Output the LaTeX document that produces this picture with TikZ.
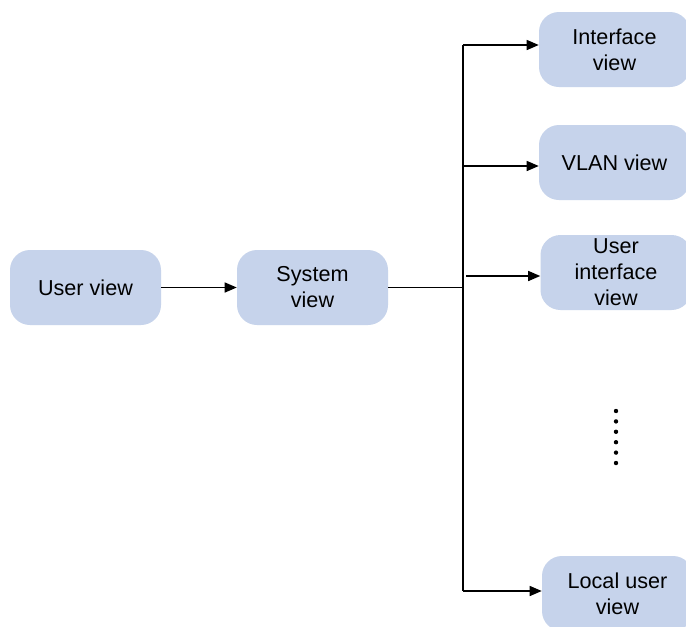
\documentclass[tikz,border=0pt]{standalone}
\usepackage{fontspec}
\setmainfont{Liberation Sans}
\usetikzlibrary{arrows.meta}
\definecolor{boxblue}{HTML}{C6D3EB}
\begin{document}
\begin{tikzpicture}[x=0.75pt,y=-0.75pt,
  viewbox/.style={rectangle, rounded corners=15pt, fill=boxblue,
    minimum width=113.25pt, minimum height=56.25pt, align=center,
    font=\fontsize{16.2}{19.5}\selectfont, inner sep=0pt},
  conn/.style={line width=1pt, draw=black},
  arr/.style={conn, -{Triangle[length=9pt,width=7.5pt]}},
  dot/.style={fill=black}]
\useasboundingbox[fill=white] (0,0) rectangle (686,626);

\node[viewbox] (user)  at (85.5,287.5)  {User view};
\node[viewbox] (sys)   at (312.5,287.5) {System\\view};
\node[viewbox] (intf)  at (614.5,49.5)  {Interface\\view};
\node[viewbox] (vlan)  at (614.5,162.5) {VLAN view};
\node[viewbox] (uif)   at (616,272.5)   {User\\interface\\view};
\node[viewbox] (local) at (617.5,593.5) {Local user\\view};

\coordinate (ttop) at (463,45);
\coordinate (tbot) at (463,591);
\coordinate (b2)   at (463,166);
\coordinate (b3)   at (466,276);

\draw[arr] (user.east) -- (sys.west);
\draw[conn] (sys.east) -- (sys.east -| ttop);
\draw[conn] (ttop) -- (tbot);
\draw[arr] (ttop) -- (ttop -| intf.west);
\draw[arr] (b2) -- (b2 -| vlan.west);
\draw[arr] (b3) -- (b3 -| uif.west);
\draw[arr] (tbot) -- (tbot -| local.west);

\foreach \yy in {411,421.4,431.8,442.2,452.6,463}
  \fill[dot] (616,\yy) circle (2.2);
\end{tikzpicture}
\end{document}
